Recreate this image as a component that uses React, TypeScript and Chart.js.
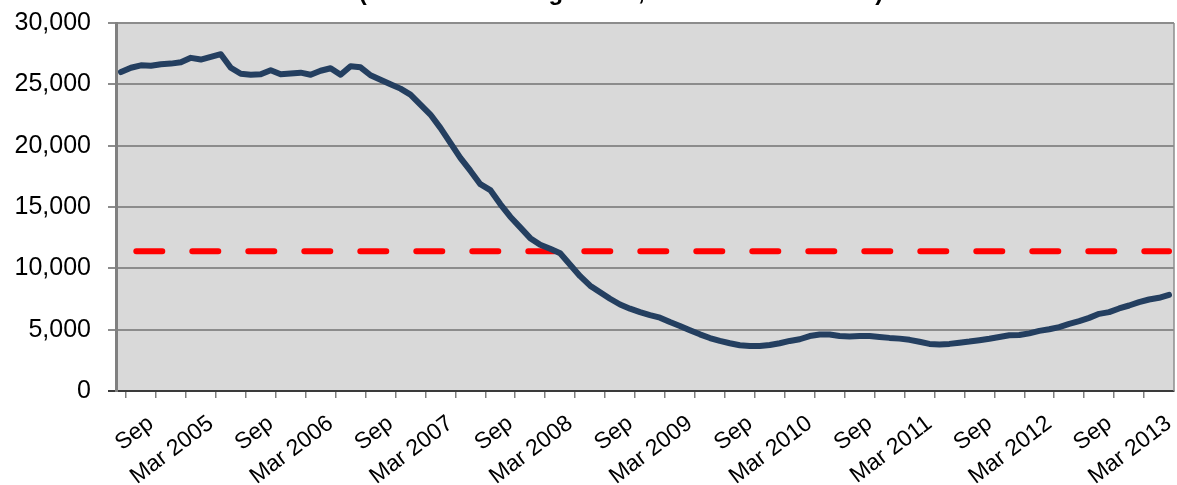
import React, { useEffect, useRef } from 'react';
import { Chart, registerables } from 'chart.js';

Chart.register(...registerables);

const TITLE = '(Historical Average of 11,400 Units Per Month)';

const CATEGORIES: string[] = [
  'Jun 2004', 'Jul 2004', 'Aug 2004', 'Sep 2004', 'Oct 2004', 'Nov 2004', 'Dec 2004',
  'Jan 2005', 'Feb 2005', 'Mar 2005', 'Apr 2005', 'May 2005', 'Jun 2005', 'Jul 2005', 'Aug 2005', 'Sep 2005', 'Oct 2005', 'Nov 2005', 'Dec 2005',
  'Jan 2006', 'Feb 2006', 'Mar 2006', 'Apr 2006', 'May 2006', 'Jun 2006', 'Jul 2006', 'Aug 2006', 'Sep 2006', 'Oct 2006', 'Nov 2006', 'Dec 2006',
  'Jan 2007', 'Feb 2007', 'Mar 2007', 'Apr 2007', 'May 2007', 'Jun 2007', 'Jul 2007', 'Aug 2007', 'Sep 2007', 'Oct 2007', 'Nov 2007', 'Dec 2007',
  'Jan 2008', 'Feb 2008', 'Mar 2008', 'Apr 2008', 'May 2008', 'Jun 2008', 'Jul 2008', 'Aug 2008', 'Sep 2008', 'Oct 2008', 'Nov 2008', 'Dec 2008',
  'Jan 2009', 'Feb 2009', 'Mar 2009', 'Apr 2009', 'May 2009', 'Jun 2009', 'Jul 2009', 'Aug 2009', 'Sep 2009', 'Oct 2009', 'Nov 2009', 'Dec 2009',
  'Jan 2010', 'Feb 2010', 'Mar 2010', 'Apr 2010', 'May 2010', 'Jun 2010', 'Jul 2010', 'Aug 2010', 'Sep 2010', 'Oct 2010', 'Nov 2010', 'Dec 2010',
  'Jan 2011', 'Feb 2011', 'Mar 2011', 'Apr 2011', 'May 2011', 'Jun 2011', 'Jul 2011', 'Aug 2011', 'Sep 2011', 'Oct 2011', 'Nov 2011', 'Dec 2011',
  'Jan 2012', 'Feb 2012', 'Mar 2012', 'Apr 2012', 'May 2012', 'Jun 2012', 'Jul 2012', 'Aug 2012', 'Sep 2012', 'Oct 2012', 'Nov 2012', 'Dec 2012',
  'Jan 2013', 'Feb 2013', 'Mar 2013',
];

const SERIES_VALUES: number[] = [
  26000, 26350, 26550, 26510, 26630, 26690, 26800, 27160, 27020, 27240,
  27460, 26350, 25860, 25780, 25820, 26150, 25820, 25880, 25950, 25780,
  26110, 26310, 25780, 26470, 26390, 25740, 25380, 25010, 24650, 24160,
  23350, 22540, 21450, 20230, 19010, 17960, 16860, 16380, 15240, 14210,
  13340, 12460, 11920, 11590, 11230, 10300, 9360, 8590, 8050, 7520,
  7050, 6710, 6430, 6190, 5980, 5620, 5300, 4950, 4620, 4320,
  4080, 3890, 3730, 3670, 3670, 3750, 3890, 4080, 4220, 4480,
  4600, 4600, 4480, 4440, 4480, 4480, 4410, 4330, 4270, 4170,
  4010, 3840, 3790, 3840, 3940, 4030, 4140, 4260, 4400, 4540,
  4560, 4700, 4900, 5030, 5210, 5470, 5690, 5960, 6290, 6430,
  6730, 6970, 7240, 7460, 7600, 7840,
];

const HIST_AVG = 11400;
const AVG_VALUES: number[] = CATEGORIES.map(() => HIST_AVG);

const Y_TICKS: number[] = [0, 5000, 10000, 15000, 20000, 25000, 30000];

function tickLabel(cat: string): string {
  if (cat.startsWith('Sep')) return 'Sep';
  if (cat.startsWith('Mar')) return cat;
  return '';
}

const FONT = '"Liberation Sans", Arial, sans-serif';

const plotDecor = {
  id: 'plotDecor',
  beforeDraw(chart: any) {
    const { ctx, chartArea: a } = chart;
    ctx.save();
    ctx.fillStyle = '#d9d9d9';
    ctx.fillRect(a.left, a.top, a.right - a.left, a.bottom - a.top);
    ctx.restore();
  },
  afterDraw(chart: any) {
    const { ctx, chartArea: a } = chart;
    ctx.save();
    ctx.strokeStyle = '#8c8c8c';
    ctx.lineWidth = 1.5;
    ctx.beginPath();
    ctx.moveTo(a.right, a.top);
    ctx.lineTo(a.right, a.bottom);
    ctx.stroke();
    ctx.fillStyle = '#000';
    ctx.font = 'bold 24px ' + FONT;
    ctx.textAlign = 'center';
    ctx.textBaseline = 'alphabetic';
    ctx.fillText(TITLE, (a.left + a.right) / 2 - 24, 0);
    ctx.restore();
  },
};

export default function App() {
  const ref = useRef<HTMLCanvasElement | null>(null);

  useEffect(() => {
    if (!ref.current) return;
    const chart = new Chart(ref.current, {
      type: 'line',
      data: {
        labels: CATEGORIES,
        datasets: [
          {
            data: SERIES_VALUES,
            borderColor: '#243f60',
            borderWidth: 6,
            pointRadius: 0,
            tension: 0,
            borderCapStyle: 'round',
            borderJoinStyle: 'round',
            fill: false,
          },
          {
            data: AVG_VALUES,
            borderColor: '#ff0000',
            borderWidth: 6,
            pointRadius: 0,
            borderDash: [26, 30],
            borderDashOffset: 40.7,
            borderCapStyle: 'round',
            fill: false,
          },
        ],
      },
      options: {
        responsive: false,
        animation: false,
        layout: { padding: { top: 23, right: 3, left: 0, bottom: 0 } },
        plugins: {
          legend: { display: false },
          tooltip: { enabled: false },
          title: { display: false },
        },
        scales: {
          x: {
            type: 'category',
            offset: true,
            grid: {
              offset: true,
              drawOnChartArea: false,
              drawTicks: true,
              tickLength: 7,
              lineWidth: 1.5,
              color: (c: any) => (c.index % 3 === 1 ? '#7f7f7f' : 'rgba(0,0,0,0)'),
            },
            border: { display: true, color: '#3a3a3a', width: 2 },
            ticks: {
              autoSkip: false,
              minRotation: 37,
              maxRotation: 37,
              padding: 12,
              color: '#000',
              font: { family: FONT, size: 23 },
              callback: (_v: any, i: number) => tickLabel(CATEGORIES[i]),
            },
            afterFit: (s: any) => {
              s.height = 94;
              s.paddingLeft = 0;
              s.paddingRight = 0;
            },
          },
          y: {
            min: Y_TICKS[0],
            max: Y_TICKS[Y_TICKS.length - 1],
            afterBuildTicks: (s: any) => {
              s.ticks = Y_TICKS.map((v) => ({ value: v }));
            },
            grid: {
              color: (c: any) => (c.tick && c.tick.value === 0 ? '#3a3a3a' : '#8c8c8c'),
              lineWidth: 2,
              drawTicks: true,
              tickLength: 8,
            },
            border: { display: true, color: '#808080', width: 3 },
            ticks: {
              padding: 17,
              color: '#000',
              font: { family: FONT, size: 25 },
              callback: (v: any) => Number(v).toLocaleString('en-US'),
            },
            afterFit: (s: any) => {
              s.width = 116;
              s.paddingTop = 0;
              s.paddingBottom = 0;
            },
          },
        },
      },
      plugins: [plotDecor],
    });
    return () => chart.destroy();
  }, []);

  return (
    <div style={{ position: 'absolute', left: 0, top: 0, width: 1177, height: 485 }}>
      <canvas ref={ref} width={1177} height={485} style={{ display: 'block' }} />
    </div>
  );
}
